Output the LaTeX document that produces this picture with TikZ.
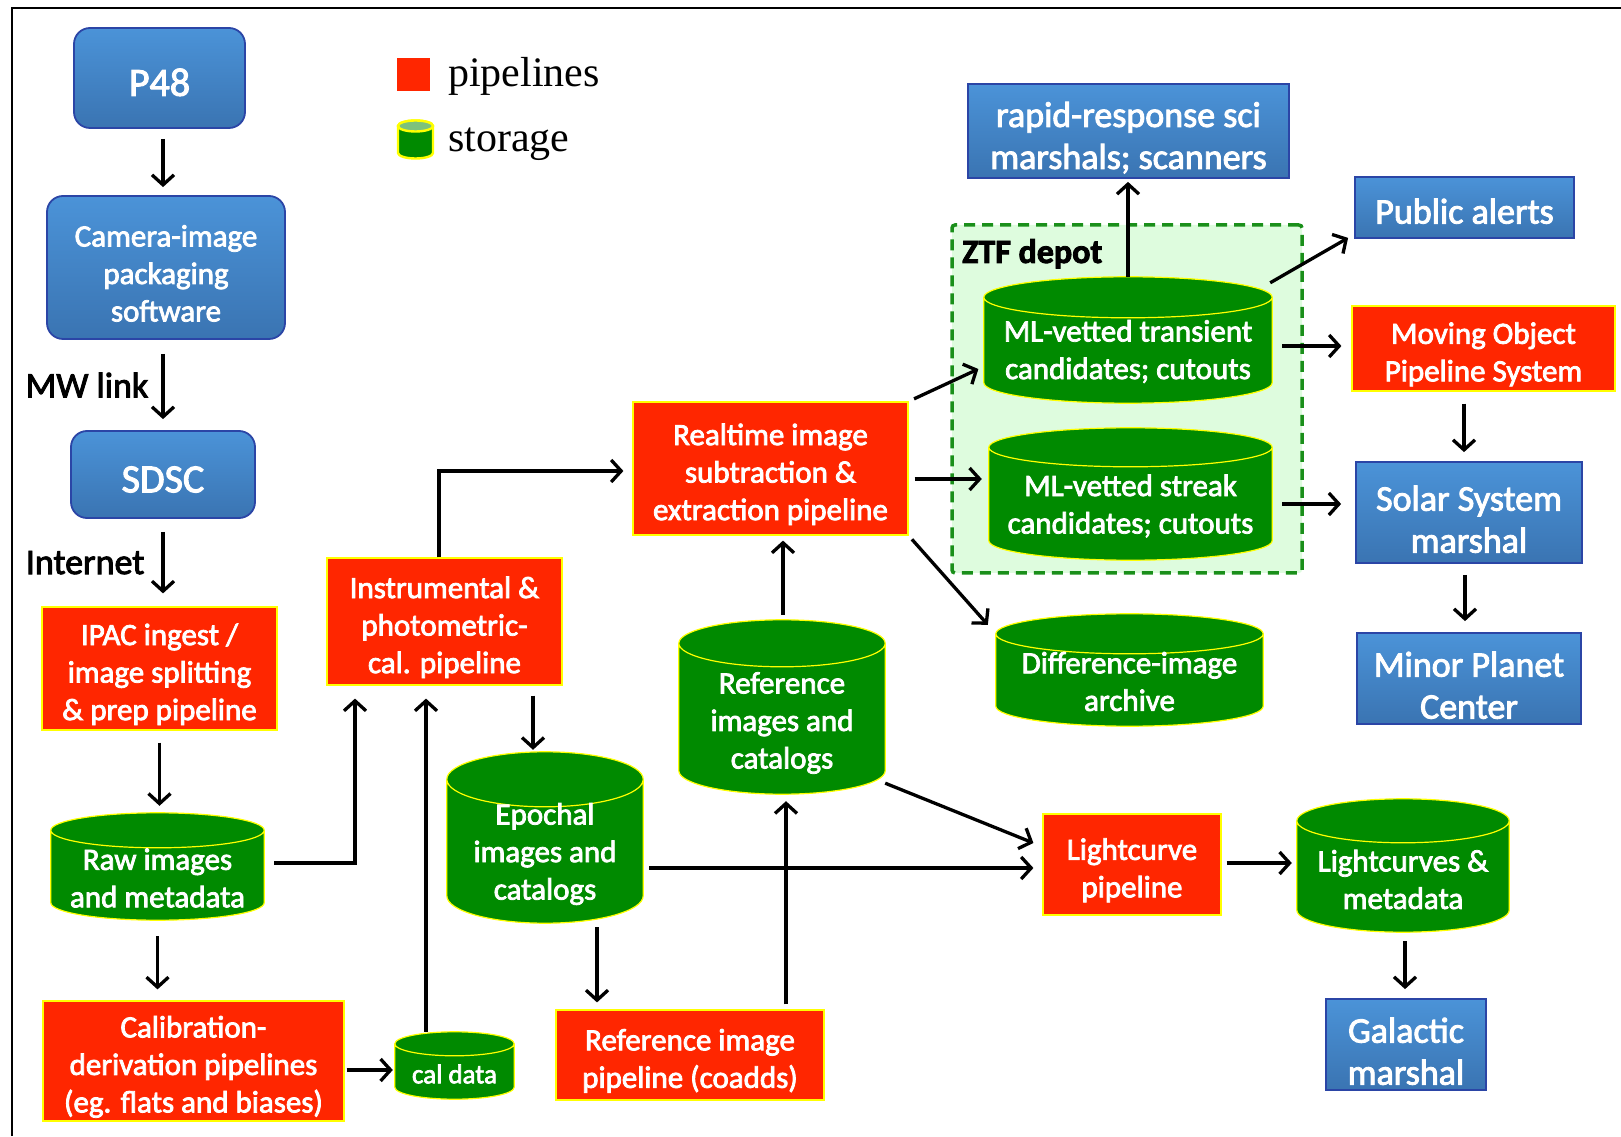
\documentclass[tikz,border=0pt]{standalone}
\usepackage{fontspec}
\setmainfont{Carlito}[FakeBold=2.5]
\newfontfamily\legendfont{Liberation Serif}
\usetikzlibrary{arrows.meta,backgrounds,calc}

\definecolor{pipered}{HTML}{FF2600}
\definecolor{storegreen}{HTML}{008A00}
\definecolor{storetop}{HTML}{7CC27C}
\definecolor{edgeyellow}{HTML}{FFFF00}
\definecolor{bluetop}{HTML}{4B93D8}
\definecolor{bluebot}{HTML}{3A74B2}
\definecolor{blueedge}{HTML}{2B45A6}
\definecolor{depotfill}{HTML}{DEFCDE}
\definecolor{depotedge}{HTML}{1A8F1A}

% strut that drops a box text a little
\newcommand{\dropline}{\rule{0pt}{1.07em}}

% cylinder behind a storage node: node, end radius, extra height on top
\newcommand{\drawstore}[3]{%
  \begin{scope}[on background layer]
    \path let \p1=(#1.north west), \p2=(#1.south east), \n1={(\x2-\x1)/2}, \n2={#2*1pt} in
      [fill=storegreen, draw=edgeyellow, line width=1.2pt]
      (\x1,\y1+#3-#2) -- (\x1,\y2+#2)
      arc[start angle=180, end angle=360, x radius=\n1, y radius=\n2]
      -- (\x2,\y1+#3-#2)
      arc[start angle=0, end angle=180, x radius=\n1, y radius=\n2] -- cycle
      (\x1,\y1+#3-#2)
      arc[start angle=180, end angle=360, x radius=\n1, y radius=\n2];
  \end{scope}
  \coordinate (#1-top) at ([yshift=#3]#1.north);}

\begin{document}
\begin{tikzpicture}[x=1pt,y=1pt,>={Straight Barb[length=10pt,width=22pt]}]
    \tikzstyle{flow}=[->,draw,line width=3.3pt,shorten <=10pt,shorten >=8pt];
    \tikzstyle{lowline}=[execute at begin node={\rule{0pt}{0.9em}}];
    \tikzstyle{pipeline}=[rectangle,fill=pipered,draw=edgeyellow,line width=1.2pt,text=white,align=center,inner sep=0pt,font=\fontsize{31}{37.5}\selectfont];
    \tikzstyle{storage}=[rectangle,inner sep=0pt,text=white,align=center,font=\fontsize{31}{37.5}\selectfont];
    \tikzstyle{marshal}=[rectangle,top color=bluetop,bottom color=bluebot,draw=blueedge,line width=1.8pt,text=white,align=center,inner sep=0pt,font=\fontsize{36}{42}\selectfont];
    \tikzstyle{hardware}=[marshal,rounded corners=16pt];
    \tikzstyle{linklabel}=[inner sep=0pt,text=black,font=\fontsize{36}{42}\selectfont];
    \tikzstyle{legendtext}=[anchor=base west,inner sep=0pt,font=\legendfont\fontsize{42}{48}\selectfont];

    \useasboundingbox (0,0) rectangle (1621,1136);
    \draw[line width=2.6pt] (12,0) -- (12,1128) -- (1621,1128);

    % legend
    \node at (413.5,1061.5) (legpipe) [fill=pipered,minimum size=33pt,inner sep=0pt] {};
    \node at (448,1049) (legpipetext) [legendtext] {pipelines};
    \filldraw[fill=storegreen,draw=edgeyellow,line width=2.4pt] (398,1010) -- (398,983)
        arc[start angle=180,end angle=360,x radius=17.5,y radius=5.5] -- (433,1010)
        arc[start angle=0,end angle=180,x radius=17.5,y radius=5.5] -- cycle;
    \filldraw[fill=storetop,draw=edgeyellow,line width=2.4pt] (415.5,1010) ellipse[x radius=17.5,y radius=5.5];
    \node at (448,984) (legstoretext) [legendtext] {storage};

    % ZTF depot
    \begin{scope}[on background layer]
    \node at (1127,737) (depot) [fill=depotfill,draw=depotedge,line width=3.5pt,dash pattern=on 11pt off 7pt,rounded corners=3pt,minimum width=350pt,minimum height=348pt,inner sep=0pt] {};
    \end{scope}
    \node at (962,873) (depotname) [anchor=base west,inner sep=0pt,font=\bfseries\fontsize{34}{40}\selectfont] {ZTF depot};

    % left column
    \node at (159.5,1058) (p48) [hardware,lowline,minimum width=171pt,minimum height=100pt,font=\fontsize{40}{48}\selectfont] {P48};
    \node at (166,868.5) (camera) [hardware,minimum width=238pt,minimum height=143pt,font=\fontsize{31}{37.5}\selectfont] {\dropline Camera-image\\packaging\\software};
    \node at (163,661.5) (sdsc) [hardware,lowline,minimum width=184pt,minimum height=87pt,font=\fontsize{40}{48}\selectfont] {SDSC};
    \node at (159.5,467.5) (ipac) [pipeline,minimum width=235pt,minimum height=123pt] {\dropline IPAC ingest /\\image splitting\\\& prep pipeline};
    \node at (157.5,258) (raw) [storage,minimum width=213pt,minimum height=84pt] {Raw images\\and metadata};
    \node at (193.5,75) (calib) [pipeline,minimum width=301pt,minimum height=120pt] {\dropline Calibration-\\derivation pipelines\\(eg. flats and biases)};
    \node at (454.5,62) (caldata) [storage,minimum width=119pt,minimum height=50pt,font=\fontsize{27}{32}\selectfont] {cal data};

    % middle
    \node at (444.5,514.5) (instr) [pipeline,minimum width=235pt,minimum height=127pt] {\dropline Instrumental \&\\photometric-\\cal. pipeline};
    \node at (545,282) (epochal) [storage,minimum width=196pt,minimum height=138pt] {Epochal\\images and\\catalogs};
    \node at (690,81) (refpipe) [pipeline,minimum width=268pt,minimum height=90pt] {\dropline Reference image\\pipeline (coadds)};
    \node at (782,413) (refimg) [storage,minimum width=206pt,minimum height=142pt] {Reference\\images and\\catalogs};
    \node at (770.5,667.5) (realtime) [pipeline,minimum width=275pt,minimum height=133pt] {\dropline Realtime image\\subtraction \&\\extraction pipeline};

    % depot and right side
    \node at (1128,784.5) (mltrans) [storage,minimum width=288pt,minimum height=103pt] {ML-vetted transient\\candidates; cutouts};
    \node at (1130.5,630) (mlstreak) [storage,minimum width=283pt,minimum height=108pt] {ML-vetted streak\\candidates; cutouts};
    \node at (1129.5,454.5) (diff) [storage,minimum width=267pt,minimum height=89pt] {Difference-image\\archive};
    \node at (1128.5,1005) (rapid) [marshal,minimum width=321pt,minimum height=94pt] {\dropline rapid-response sci\\marshals; scanners};
    \node at (1464.5,928.5) (public) [marshal,lowline,minimum width=219pt,minimum height=61pt] {Public alerts};
    \node at (1483.5,787.5) (mops) [pipeline,minimum width=263pt,minimum height=85pt] {\dropline Moving Object\\Pipeline System};
    \node at (1469,623.5) (solar) [marshal,minimum width=226pt,minimum height=101pt] {\dropline Solar System\\marshal};
    \node at (1469,457.5) (minor) [marshal,minimum width=224pt,minimum height=91pt] {\dropline Minor Planet\\Center};
    \node at (1132,271.5) (lightcurve) [pipeline,minimum width=178pt,minimum height=101pt] {\dropline Lightcurve\\pipeline};
    \node at (1403,256.5) (lcs) [storage,minimum width=212pt,minimum height=105pt] {Lightcurves \&\\metadata};
    \node at (1406,91.5) (galactic) [marshal,minimum width=160pt,minimum height=91pt] {\dropline Galactic\\marshal};

    \drawstore{raw}{17.5}{23}
    \drawstore{caldata}{12}{17}
    \drawstore{epochal}{27.5}{33}
    \drawstore{refimg}{23.5}{32}
    \drawstore{mltrans}{20.5}{23}
    \drawstore{mlstreak}{19.5}{24}
    \drawstore{diff}{20}{23}
    \drawstore{lcs}{22}{28}

    \draw[flow] ([xshift=3.5pt]p48.south) -- ([xshift=-3pt]camera.north);
    \draw[flow,shorten <=14pt,shorten >=11pt] (camera.south -| sdsc.north) -- (sdsc.north) node[linklabel,midway,left=13pt] {MW link};
    \draw[flow,shorten <=13pt,shorten >=13pt] (sdsc.south) -- (sdsc.south |- ipac.north) node[linklabel,midway,left=17pt] {Internet};
    \draw[flow,shorten <=12pt,shorten >=7pt] (ipac.south) -- (ipac.south |- raw-top);
    \draw[flow,shorten <=16pt,shorten >=11pt] (raw.south) -- (raw.south |- calib.north);
    \draw[flow,shorten <=2pt,shorten >=2pt] ([yshift=-9pt]calib.east) -- ([yshift=4pt]caldata.west);
    \draw[flow,shorten <=0pt,shorten >=13pt] ([xshift=-28.5pt]caldata-top) -- ([xshift=-28.5pt]caldata-top |- instr.south);
    \draw[flow,shorten >=13pt] ([yshift=15pt]raw.east) -| ([xshift=-89.5pt]instr.south);
    \draw[flow,shorten <=0pt,shorten >=9pt] ([xshift=-5.5pt]instr.north) |- ([yshift=-2.5pt]realtime.west);
    \draw[flow,shorten >=2pt] ([xshift=88.5pt]instr.south) -- ([xshift=88.5pt]instr.south |- epochal-top);
    \draw[flow,shorten <=4pt,shorten >=7pt] ([xshift=52pt]epochal.south) -- ([xshift=52pt]epochal.south |- refpipe.north);
    \draw[flow,shorten <=5pt,shorten >=7pt] ([xshift=96pt]refpipe.north) -- ([xshift=96pt]refpipe.north |- refimg.south);
    \draw[flow,shorten <=5pt,shorten >=5pt] ([xshift=1pt]refimg-top) -- ([xshift=1pt]refimg-top |- realtime.south);
    \draw[flow,shorten <=6pt,shorten >=6pt] (realtime.north east) -- ([yshift=-15pt]mltrans.west);
    \draw[flow,shorten <=6pt,shorten >=7pt] ([yshift=-10.5pt]realtime.east) -- ([yshift=-10.5pt]realtime.east -| mlstreak.west);
    \draw[flow,shorten <=5pt,shorten >=12pt] (realtime.south east) -- ([yshift=-20pt]diff-top -| diff.west);
    \draw[flow,shorten <=0pt,shorten >=3pt] (mltrans-top) -- (mltrans-top |- rapid.south);
    \draw[flow,shorten <=0pt,shorten >=0pt] ([shift={(-2pt,-6pt)}]mltrans-top -| mltrans.east) -- ([shift={(-6pt,1pt)}]public.south west);
    \draw[flow,shorten >=10pt] ([yshift=5.5pt]mltrans.east) -- ([yshift=5.5pt]mltrans.east -| mops.west);
    \draw[flow,shorten >=14pt] ([yshift=2pt]mlstreak.east) -- ([yshift=2pt]mlstreak.east -| solar.west);
    \draw[flow,shorten <=12pt,shorten >=9pt] ([xshift=-19.5pt]mops.south) -- ([xshift=-19.5pt]mops.south |- solar.north);
    \draw[flow,shorten <=11pt,shorten >=11pt] ([xshift=-4pt]solar.south) -- ([xshift=-4pt]solar.south |- minor.north);
    \draw[flow,shorten <=0pt,shorten >=0pt] ([yshift=11pt]refimg.south east) -- ([shift={(-9pt,21.5pt)}]lightcurve.west);
    \draw[flow,shorten <=6pt,shorten >=9pt] ([yshift=-14pt]epochal.east) -- ([yshift=-14pt]epochal.east -| lightcurve.west);
    \draw[flow,shorten <=5pt,shorten >=5pt] ([yshift=1.5pt]lightcurve.east) -- ([yshift=1.5pt]lightcurve.east -| lcs.west);
    \draw[flow,shorten <=9pt,shorten >=9pt] ([xshift=2pt]lcs.south) -- ([xshift=2pt]lcs.south |- galactic.north);
\end{tikzpicture}
\end{document}
